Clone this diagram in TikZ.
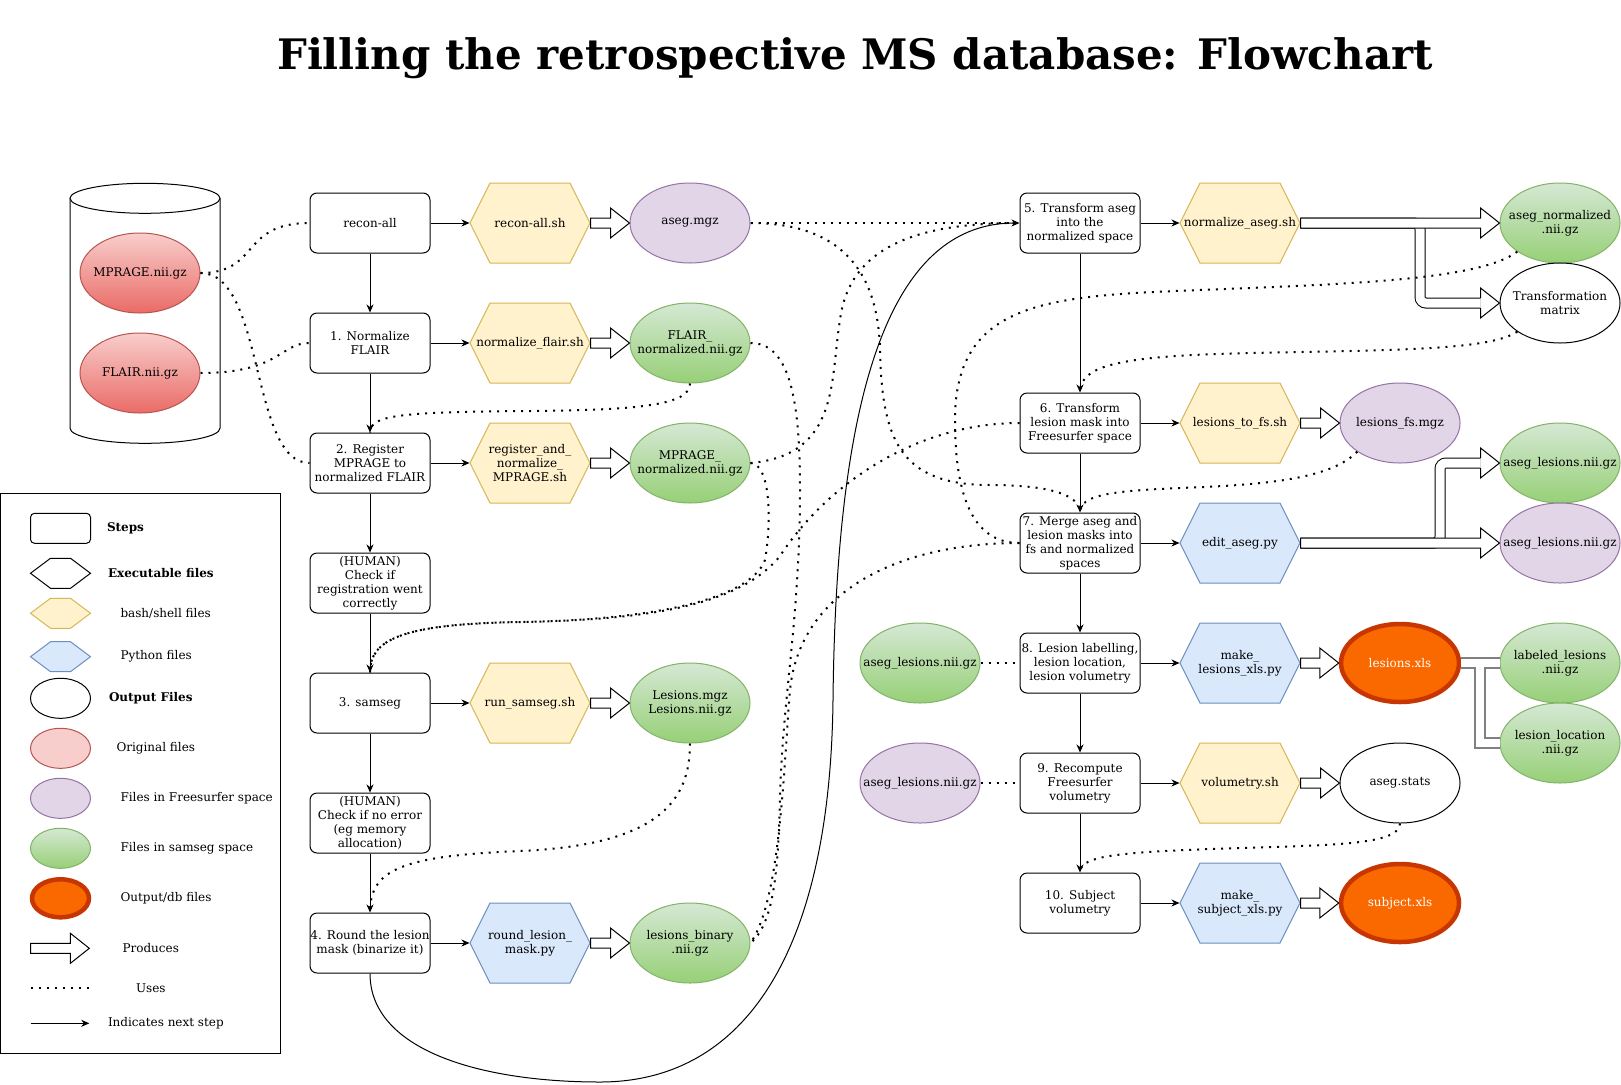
\documentclass[tikz,border=0pt]{standalone}
\usepackage{fontspec}
\setmainfont{DejaVu Serif}
\usetikzlibrary{shapes.geometric,arrows.meta,calc}
\definecolor{yfill}{HTML}{FFF2CC}\definecolor{ydraw}{HTML}{D6B656}
\definecolor{bfill}{HTML}{DAE8FC}\definecolor{bdraw}{HTML}{6C8EBF}
\definecolor{pfill}{HTML}{E1D5E7}\definecolor{pdraw}{HTML}{9673A6}
\definecolor{gtop}{HTML}{D5E8D4}\definecolor{gbot}{HTML}{97D077}\definecolor{gdraw}{HTML}{82B366}
\definecolor{rtop}{HTML}{F8CECC}\definecolor{rbot}{HTML}{EA6B66}\definecolor{rdraw}{HTML}{B85450}
\definecolor{ofill}{HTML}{FA6800}\definecolor{odraw}{HTML}{C73500}
\definecolor{linkgray}{HTML}{808080}
\tikzset{
 txt/.style={font=\fontsize{12}{14}\selectfont, align=center, inner sep=0pt},
 stepbox/.style={txt, draw, rounded corners=7pt, minimum width=120pt, minimum height=60pt, fill=white},
 fileell/.style={txt, ellipse, minimum width=120pt, minimum height=80pt, draw, inner xsep=-20pt, inner ysep=0pt},
 greenf/.style={fileell, draw=gdraw, top color=gtop, bottom color=gbot},
 purplef/.style={fileell, draw=pdraw, fill=pfill},
 redf/.style={fileell, draw=rdraw, top color=rtop, bottom color=rbot},
 outf/.style={fileell, draw=black, fill=white},
 dbf/.style={fileell, draw=odraw, fill=ofill, line width=4.5pt, text=white, minimum width=118pt, minimum height=78pt},
 nextarr/.style={-{Stealth[length=8pt,width=7pt,inset=2.5pt]}},
 uses/.style={line width=2pt, dash pattern=on 2pt off 6pt},
 lgtxt/.style={txt, anchor=west},
}
% name, x, y, w, h, fill, draw, text
\newcommand\hexa[8]{%
 \filldraw[fill=#6,draw=#7] (#2-#4/2,#3) -- (#2-#4/2+20,#3-#5/2) -- (#2+#4/2-20,#3-#5/2) -- (#2+#4/2,#3) -- (#2+#4/2-20,#3+#5/2) -- (#2-#4/2+20,#3+#5/2) -- cycle;
 \node[txt, minimum width=#4, minimum height=#5] (#1) at (#2,#3) {#8};}
\newcommand\prodarrow[2]{%
 \draw[fill=white] let \p1=(#1.east), \p2=(#2.west) in
 (\x1,\y1+5pt) -- (\x2-19pt,\y1+5pt) -- (\x2-19pt,\y1+15pt) -- (\x2,\y1) -- (\x2-19pt,\y1-15pt) -- (\x2-19pt,\y1-5pt) -- (\x1,\y1-5pt) -- cycle;}
\newcommand\prodhead[1]{%
 \filldraw[fill=white] ($(#1.west)+(-19,-5)$) -- ($(#1.west)+(-19,-15)$) -- (#1.west) -- ($(#1.west)+(-19,15)$) -- ($(#1.west)+(-19,5)$);}
\begin{document}
\begin{tikzpicture}[x=1pt,y=-1pt,line width=1pt]
\useasboundingbox (0,0) rectangle (1621,1084);
\fill[white] (0,0) rectangle (1621,1084);

\node[font=\fontsize{42}{50}\selectfont\bfseries] (title) at (855,58) {Filling the retrospective MS database: Flowchart};

% database cylinder
\filldraw[fill=white] (70,198.3) -- (70,428.3) arc[start angle=180,end angle=360,x radius=75pt,y radius=15pt] -- (220,198.3);
\filldraw[fill=white] (145,198.3) ellipse[x radius=75pt,y radius=15pt];
\node[redf] (mp) at (140,273) {MPRAGE.nii.gz};
\node[redf] (fl) at (140,373) {FLAIR.nii.gz};

% left steps
\node[stepbox] (recon) at (370,223) {recon-all};
\node[stepbox] (n1) at (370,343) {1. Normalize\\FLAIR};
\node[stepbox] (n2) at (370,463) {2. Register\\MPRAGE to\\normalized FLAIR};
\node[stepbox] (hc1) at (370,583) {(HUMAN)\\Check if\\registration went\\correctly};
\node[stepbox] (n3) at (370,703) {3. samseg};
\node[stepbox] (hc2) at (370,823) {(HUMAN)\\Check if no error\\(eg memory\\allocation)};
\node[stepbox] (n4) at (370,943) {4. Round the lesion\\mask (binarize it)};

\hexa{rsh}{530}{223}{120}{80}{yfill}{ydraw}{recon-all.sh}
\hexa{nfsh}{530}{343}{120}{80}{yfill}{ydraw}{normalize\_flair.sh}
\hexa{rnsh}{530}{463}{120}{80}{yfill}{ydraw}{register\_and\_\\normalize\_\\MPRAGE.sh}
\hexa{rssh}{530}{703}{120}{80}{yfill}{ydraw}{run\_samseg.sh}
\hexa{rlm}{530}{943}{120}{80}{bfill}{bdraw}{round\_lesion\_\\mask.py}

\node[purplef] (asegm) at (690,223) {aseg.mgz};
\node[greenf] (fln) at (690,343) {FLAIR\_\\normalized.nii.gz};
\node[greenf] (mpn) at (690,463) {MPRAGE\_\\normalized.nii.gz};
\node[greenf] (les) at (690,703) {Lesions.mgz\\Lesions.nii.gz};
\node[greenf] (lb) at (690,943) {lesions\_binary\\.nii.gz};

% right steps
\node[stepbox] (n5) at (1080,223) {5. Transform aseg\\into the\\normalized space};
\node[stepbox] (n6) at (1080,423) {6. Transform\\lesion mask into\\Freesurfer space};
\node[stepbox] (n7) at (1080,543) {7. Merge aseg and\\lesion masks into\\fs and normalized\\spaces};
\node[stepbox] (n8) at (1080,663) {8. Lesion labelling,\\lesion location,\\lesion volumetry};
\node[stepbox] (n9) at (1080,783) {9. Recompute\\Freesurfer\\volumetry};
\node[stepbox] (n10) at (1080,903) {10. Subject\\volumetry};

\hexa{nash}{1240}{223}{120}{80}{yfill}{ydraw}{normalize\_aseg.sh}
\hexa{ltfs}{1240}{423}{120}{80}{yfill}{ydraw}{lesions\_to\_fs.sh}
\hexa{ea}{1240}{543}{120}{80}{bfill}{bdraw}{edit\_aseg.py}
\hexa{mlx}{1240}{663}{120}{80}{bfill}{bdraw}{make\_\\lesions\_xls.py}
\hexa{vsh}{1240}{783}{120}{80}{yfill}{ydraw}{volumetry.sh}
\hexa{msx}{1240}{903}{120}{80}{bfill}{bdraw}{make\_\\subject\_xls.py}

\node[purplef] (lfs) at (1400,423) {lesions\_fs.mgz};
\node[dbf] (lx) at (1400,663) {lesions.xls};
\node[outf] (ast) at (1400,783) {aseg.stats};
\node[dbf] (sx) at (1400,903) {subject.xls};

\node[greenf] (an) at (1560,223) {aseg\_normalized\\.nii.gz};
\node[outf] (tm) at (1560,303) {Transformation\\matrix};
\node[greenf] (alg) at (1560,463) {aseg\_lesions.nii.gz};
\node[purplef] (alp) at (1560,543) {aseg\_lesions.nii.gz};
\node[greenf] (ll) at (1560,663) {labeled\_lesions\\.nii.gz};
\node[greenf] (lloc) at (1560,743) {lesion\_location\\.nii.gz};

\node[greenf] (alg2) at (920,663) {aseg\_lesions.nii.gz};
\node[purplef] (alp2) at (920,783) {aseg\_lesions.nii.gz};

% next-step arrows
\draw[nextarr] (recon) -- (n1);
\draw[nextarr] (n1) -- (n2);
\draw[nextarr] (n2) -- (hc1);
\draw[nextarr] (hc1) -- (n3);
\draw[nextarr] (n3) -- (hc2);
\draw[nextarr] (hc2) -- (n4);
\draw[nextarr] (recon) -- (rsh);
\draw[nextarr] (n1) -- (nfsh);
\draw[nextarr] (n2) -- (rnsh);
\draw[nextarr] (n3) -- (rssh);
\draw[nextarr] (n4) -- (rlm);
\draw[nextarr] (n5) -- (n6);
\draw[nextarr] (n6) -- (n7);
\draw[nextarr] (n7) -- (n8);
\draw[nextarr] (n8) -- (n9);
\draw[nextarr] (n9) -- (n10);
\draw[nextarr] (n5) -- (nash);
\draw[nextarr] (n6) -- (ltfs);
\draw[nextarr] (n7) -- (ea);
\draw[nextarr] (n8) -- (mlx);
\draw[nextarr] (n9) -- (vsh);
\draw[nextarr] (n10) -- (msx);
\draw[nextarr] (n4.south) .. controls (370,1050) and (480,1082) .. (600,1082) .. controls (740,1082) and (830,960) .. (833,700) .. controls (836,420) and (880,223) .. (n5.west);

% produces arrows
\prodarrow{rsh}{asegm}
\prodarrow{nfsh}{fln}
\prodarrow{rnsh}{mpn}
\prodarrow{rssh}{les}
\prodarrow{rlm}{lb}
\prodarrow{ltfs}{lfs}
\prodarrow{mlx}{lx}
\prodarrow{vsh}{ast}
\prodarrow{msx}{sx}
\draw[line width=11pt, rounded corners=6pt] (nash.east) -- (1420,223) -- (1420,303) -- ($(tm.west)+(-19,0)$);
\draw[white, line width=9pt, rounded corners=6pt] (nash.east) -- (1420,223) -- (1420,303) -- ($(tm.west)+(-19,0)$);
\prodhead{tm}
\prodarrow{nash}{an}
\draw[line width=11pt, rounded corners=6pt] (ea.east) -- (1440,543) -- (1440,463) -- ($(alg.west)+(-19,0)$);
\draw[white, line width=9pt, rounded corners=6pt] (ea.east) -- (1440,543) -- (1440,463) -- ($(alg.west)+(-19,0)$);
\prodhead{alg}
\prodarrow{ea}{alp}

% links from lesions.xls
\draw[linkgray, line width=12pt] (lx.east) -- (ll.west);
\draw[linkgray, line width=12pt] (lx.east) -- (1480,663) -- (1480,743) -- (lloc.west);
\draw[white, line width=8pt] (lx.east) -- (ll.west);
\draw[white, line width=8pt] (lx.east) -- (1480,663) -- (1480,743) -- (lloc.west);

% uses (dotted)
\draw[uses] (mp.east) .. controls (260,273) and (240,223) .. (recon.west);
\draw[uses] (mp.east) .. controls (265,273) and (250,463) .. (n2.west);
\draw[uses] (fl.east) .. controls (280,373) and (280,343) .. (n1.west);
\draw[uses] (fln.south) .. controls (690,405) and (640,410) .. (530,411) .. controls (400,412) and (370,415) .. (n2.north);
\draw[uses] (fln.east) .. controls (790,343) and (800,400) .. (800,490) .. controls (800,620) and (782,700) .. (780,800) .. controls (778,880) and (772,925) .. (lb.east);
\draw[uses] (n7.west) .. controls (900,543) and (800,590) .. (790,690) .. controls (784,760) and (781,900) .. (lb.east);
\draw[uses] (n6.west) .. controls (920,423) and (830,480) .. (780,556) .. controls (740,605) and (650,620) .. (520,622) .. controls (400,624) and (370,640) .. (n3.north);
\draw[uses] (mpn.east) .. controls (770,463) and (772,520) .. (765,560) .. controls (750,600) and (650,620) .. (520,622) .. controls (400,624) and (370,640) .. (n3.north);
\draw[uses] (mpn.east) .. controls (840,455) and (830,380) .. (840,320) .. controls (850,240) and (930,223) .. (n5.west);
\draw[uses] (asegm.east) -- (n5.west);
\draw[uses] (asegm.east) .. controls (840,223) and (878,270) .. (880,350) .. controls (882,440) and (900,485) .. (990,485) .. controls (1050,485) and (1080,495) .. (n7.north);
\draw[uses] (an.south west) .. controls (1480,280) and (1350,284) .. (1200,290) .. controls (1050,296) and (955,300) .. (955,420) .. controls (955,510) and (980,543) .. (n7.west);
\draw[uses] (tm.south west) .. controls (1490,350) and (1400,350) .. (1250,353) .. controls (1120,356) and (1080,365) .. (n6.north);
\draw[uses] (lfs.south west) .. controls (1330,480) and (1260,485) .. (1180,488) .. controls (1110,491) and (1080,495) .. (n7.north);
\draw[uses] (ast.south) .. controls (1400,845) and (1330,845) .. (1240,848) .. controls (1120,852) and (1080,855) .. (n10.north);
\draw[uses] (les.south) .. controls (690,800) and (660,845) .. (520,851) .. controls (400,856) and (370,870) .. (n4.north);
\draw[uses] (alg2) -- (n8);
\draw[uses] (alp2) -- (n9);

% legend
\draw (0.5,493.3) rectangle (280.6,1053.3);
\node[stepbox, minimum width=60pt, minimum height=30pt, rounded corners=4pt] (lgstep) at (60.5,528.3) {};
\node[lgtxt, font=\fontsize{12}{14}\selectfont\bfseries] at (106.5,528.3) {Steps};
\hexa{lgex}{60.5}{573.3}{60}{30}{white}{black}{}
\node[lgtxt, font=\fontsize{12}{14}\selectfont\bfseries] at (107.5,573.3) {Executable files};
\hexa{lgsh}{60.5}{613.3}{60}{30}{yfill}{ydraw}{}
\node[lgtxt] at (120,613.3) {bash/shell files};
\hexa{lgpy}{60.5}{656.7}{60}{30}{bfill}{bdraw}{}
\node[lgtxt] at (120,656.7) {Python files};
\node[outf, minimum width=60pt, minimum height=40pt] (lgout) at (60.5,698.3) {};
\node[lgtxt, font=\fontsize{12}{14}\selectfont\bfseries] at (108.5,698.3) {Output Files};
\node[fileell, draw=rdraw, fill=rtop, minimum width=60pt, minimum height=40pt] (lgorig) at (60.5,748.3) {};
\node[lgtxt] at (116,748.3) {Original files};
\node[purplef, minimum width=60pt, minimum height=40pt] (lgfs) at (60.5,798.3) {};
\node[lgtxt] at (120,798.3) {Files in Freesurfer space};
\node[greenf, minimum width=60pt, minimum height=40pt] (lgss) at (60.5,848.3) {};
\node[lgtxt] at (120,848.3) {Files in samseg space};
\node[dbf, minimum width=57pt, minimum height=38pt] (lgdb) at (60.5,898.3) {};
\node[lgtxt] at (120,898.3) {Output/db files};
\draw[fill=white] (30.6,943.3) -- (70.4,943.3) -- (70.4,933.3) -- (89.3,948.3) -- (70.4,963.3) -- (70.4,953.3) -- (30.6,953.3) -- cycle;
\node[lgtxt] at (122,948.3) {Produces};
\coordinate (lgu1) at (30.6,988.3);
\coordinate (lgu2) at (89.3,988.3);
\draw[uses] (lgu1) -- (lgu2);
\node[lgtxt] at (135.5,988.3) {Uses};
\coordinate (lgn1) at (30.6,1023.3);
\coordinate (lgn2) at (89.3,1023.3);
\draw[nextarr] (lgn1) -- (lgn2);
\node[lgtxt] at (107.5,1023.3) {Indicates next step};
\end{tikzpicture}
\end{document}
